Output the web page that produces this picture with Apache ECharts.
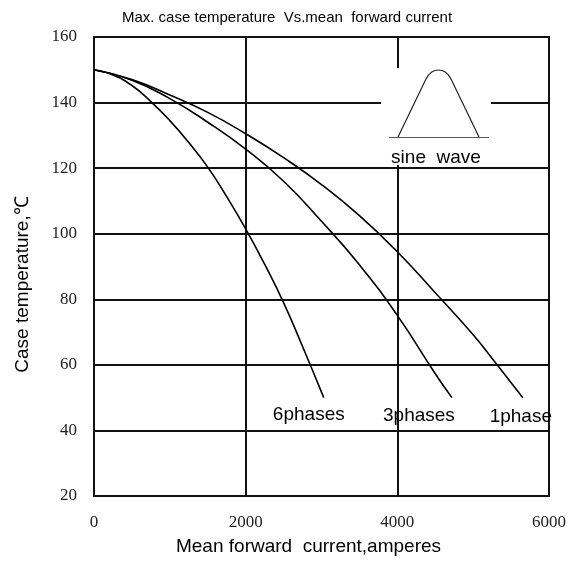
<!DOCTYPE html>
<html>
<head>
<meta charset="utf-8">
<script src="https://cdn.jsdelivr.net/npm/echarts@6/dist/echarts.min.js"></script>
<style>
    html, body { margin: 0; padding: 0; background: #fff; }
    #chart { width: 574px; height: 562px; }
</style>
</head>
<body>
<div id="chart"></div>
<script>
// curve data (current in A, temperature in degC)
var seriesNames = ['6phases', '3phases', '1phase'];
var current6 = [0, 250, 500, 750, 1000, 1250, 1500, 1750, 2000, 2250, 2500, 2750, 3030];
var temp6 = [150, 148.4, 145.2, 140.3, 134.5, 127.8, 120.3, 111.3, 101.5, 90.7, 79, 65.6, 50];
var current3 = [0, 500, 1000, 1500, 2000, 2500, 3000, 3500, 4000, 4500, 4720];
var temp3 = [150, 146.8, 141.2, 134, 125.8, 116, 103.8, 90.5, 75.1, 57.3, 50];
var current1 = [0, 500, 1000, 1500, 2000, 2500, 3000, 3500, 4000, 4500, 5000, 5300, 5655];
var temp1 = [150, 147, 142.3, 137, 130.5, 123.2, 115, 105.5, 94.5, 82, 69.2, 60.5, 50];
// where each curve's name sits, relative to its last point
var labelOffsets = [[-15, 2], [-33, 3], [-2, 4]];

var chart = echarts.init(document.getElementById('chart'));

function buildData(xs, ys, idx) {
    return xs.map(function (x, i) {
        if (i < xs.length - 1) return [x, ys[i]];
        return {
            value: [x, ys[i]],
            label: {
                show: true,
                formatter: seriesNames[idx],
                position: 'bottom',
                offset: labelOffsets[idx],
                fontFamily: 'Liberation Sans',
                fontSize: 19,
                color: '#000'
            }
        };
    });
}

var curves = [[current6, temp6], [current3, temp3], [current1, temp1]];

var option = {
    animation: false,
    backgroundColor: '#fff',
    title: {
        text: 'Max. case temperature  Vs.mean  forward current',
        left: 'center',
        top: 5,
        textStyle: {
            fontFamily: 'Liberation Sans',
            fontSize: 15,
            fontWeight: 'normal',
            color: '#000'
        }
    },
    grid: {
        left: 94,
        right: 25,
        top: 37,
        bottom: 66,
        show: true,
        borderColor: '#111',
        borderWidth: 2
    },
    xAxis: {
        type: 'value',
        min: 0,
        max: 6000,
        interval: 2000,
        name: 'Mean forward  current,amperes',
        nameLocation: 'middle',
        nameGap: 41,
        nameTextStyle: {
            fontFamily: 'Liberation Sans',
            fontSize: 19,
            color: '#000',
            padding: [0, 26, 0, 0]
        },
        axisLine: { show: true, lineStyle: { color: '#111', width: 2 } },
        axisTick: { show: false },
        axisLabel: {
            margin: 18,
            fontFamily: 'Liberation Serif',
            fontSize: 17,
            color: '#222',
            formatter: function (v) { return String(v); }
        },
        splitLine: { show: true, lineStyle: { color: '#111', width: 2 } }
    },
    yAxis: {
        type: 'value',
        min: 20,
        max: 160,
        interval: 20,
        name: 'Case temperature,℃',
        nameLocation: 'middle',
        nameGap: 62,
        nameTextStyle: {
            fontFamily: 'Liberation Sans',
            fontSize: 19,
            color: '#000',
            padding: [0, 36, 0, 0]
        },
        axisLine: { show: true, lineStyle: { color: '#111', width: 2 } },
        axisTick: { show: false },
        axisLabel: {
            margin: 17,
            fontFamily: 'Liberation Serif',
            fontSize: 17,
            color: '#222',
            padding: [5, 0, 0, 0]
        },
        splitLine: { show: true, lineStyle: { color: '#111', width: 2 } }
    },
    series: curves.map(function (c, idx) {
        return {
            name: seriesNames[idx],
            type: 'line',
            smooth: 0.5,
            symbol: 'circle',
            symbolSize: 1,
            showSymbol: true,
            itemStyle: { color: 'rgba(0,0,0,0)' },
            lineStyle: { color: '#000', width: 1.6 },
            data: buildData(c[0], c[1], idx),
            z: 3
        };
    }),
    // the "sine wave" inset in the upper right cell
    graphic: [
        {
            type: 'rect',
            z: 100,
            shape: { x: 381, y: 68, width: 110, height: 97 },
            style: { fill: '#fff' }
        },
        {
            type: 'polyline',
            z: 101,
            shape: { points: [[398, 137], [426, 79]] },
            style: { fill: null, stroke: '#222', lineWidth: 1.2 }
        },
        {
            type: 'bezierCurve',
            z: 101,
            shape: { x1: 426, y1: 79, cpx1: 432, cpy1: 67, cpx2: 445, cpy2: 67, x2: 451, y2: 79 },
            style: { fill: null, stroke: '#222', lineWidth: 1.2 }
        },
        {
            type: 'polyline',
            z: 101,
            shape: { points: [[451, 79], [479, 137]] },
            style: { fill: null, stroke: '#222', lineWidth: 1.2 }
        },
        {
            type: 'line',
            z: 101,
            shape: { x1: 389, y1: 137.5, x2: 489, y2: 137.5 },
            style: { stroke: '#555', lineWidth: 1.2 }
        },
        {
            type: 'text',
            z: 101,
            x: 436,
            y: 158,
            style: {
                text: 'sine  wave',
                fontFamily: 'Liberation Sans',
                fontSize: 19,
                fill: '#000',
                align: 'center',
                verticalAlign: 'middle'
            }
        }
    ]
};

chart.setOption(option);
</script>
</body>
</html>
